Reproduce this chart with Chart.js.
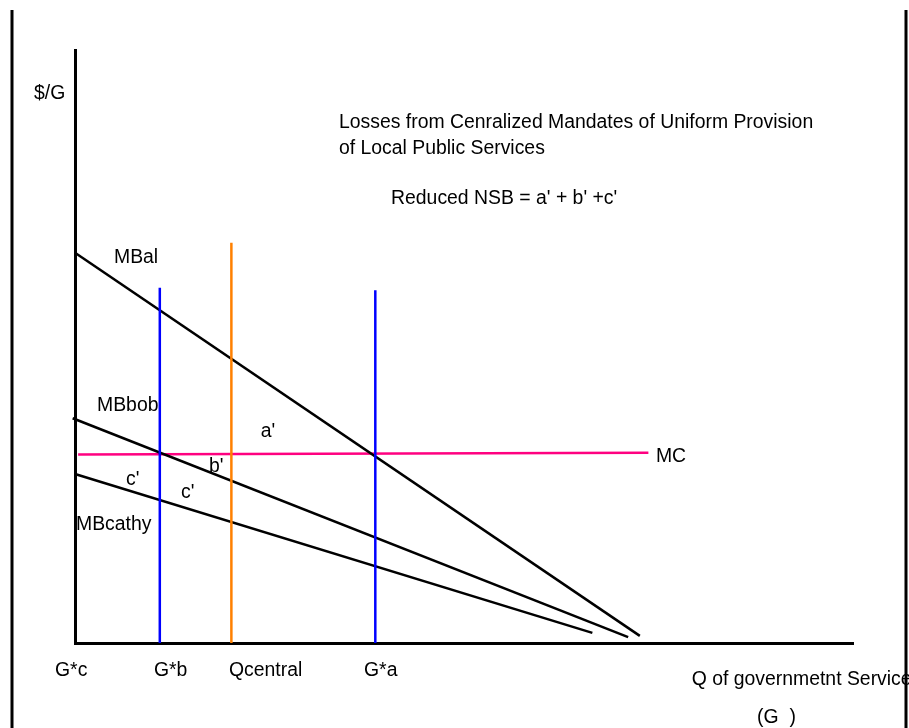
<!DOCTYPE html>
<html>
<head>
<meta charset="utf-8">
<script src="https://cdn.jsdelivr.net/npm/chart.js@4.4.0/dist/chart.umd.min.js"></script>
<style>
  html, body { margin: 0; padding: 0; background: #fff; }
  #wrap { width: 909px; height: 728px; }
</style>
</head>
<body>
<div id="wrap"><canvas id="chart" width="909" height="728"></canvas></div>
<script>
// curves (x = quantity of G, y = $/G)
const mbAlX = [0, 72.6];
const mbAlY = [65.8, 1.2];
const mbBobX = [-0.3, 71.1];
const mbBobY = [37.9, 1.0];
const mbCathyX = [0, 66.5];
const mbCathyY = [28.5, 1.7];
const mcX = [0.4, 73.7];
const mcY = [31.8, 32.1];

// vertical quantity markers
const gStarB = 10.9;
const qCentral = 20.1;
const gStarA = 38.6;
const gStarBTop = 59.9;
const qCentralTop = 67.5;
const gStarATop = 59.5;

// x labels under the axis
const xTickLabels = ['G*c', 'G*b', 'Qcentral', 'G*a'];
const xTickPos = [-2.44, 10.28, 19.92, 37.28];

const pts = (xs, ys) => xs.map((x, i) => ({ x: x, y: ys[i] }));
const vline = (x, top) => [{ x: x, y: 0 }, { x: x, y: top }];

// text notes, in data units
const notes = [
  { t: '$/G', x: -5.14, y: 92.7 },
  { t: 'Losses from Cenralized Mandates of Uniform Provision', x: 34.06, y: 87.7 },
  { t: 'of Local Public Services', x: 34.06, y: 83.3 },
  { t: "Reduced NSB = a' + b' +c'", x: 40.75, y: 74.9 },
  { t: 'MBal', x: 5.14, y: 64.9 },
  { t: 'MBbob', x: 2.96, y: 40.0 },
  { t: "a'", x: 24.0, y: 35.6 },
  { t: "b'", x: 17.35, y: 29.7 },
  { t: "c'", x: 6.68, y: 27.5 },
  { t: "c'", x: 13.75, y: 25.3 },
  { t: 'MBcathy', x: 0.26, y: 19.9 },
  { t: 'MC', x: 74.8, y: 31.4 },
  { t: 'Q of governmetnt Service', x: 79.4, y: -6.1 },
  { t: '(G  )', x: 87.8, y: -12.6 }
];
xTickLabels.forEach((t, i) => notes.push({ t: t, x: xTickPos[i], y: -4.7 }));

const textPlugin = {
  id: 'notes',
  afterDraw(chart) {
    const c = chart.ctx;
    const sx = chart.scales.x, sy = chart.scales.y;
    c.save();
    c.fillStyle = '#000';
    c.font = '19.4px "Liberation Sans", Arial, sans-serif';
    c.textAlign = 'left';
    c.textBaseline = 'middle';
    notes.forEach(n => c.fillText(n.t, sx.getPixelForValue(n.x) - 1, sy.getPixelForValue(n.y)));
    // page frame lines left and right
    c.strokeStyle = '#000';
    c.lineWidth = 3;
    c.beginPath();
    c.moveTo(12, 10); c.lineTo(12, 728);
    c.moveTo(906, 10); c.lineTo(906, 728);
    c.stroke();
    c.restore();
  }
};

const seg = (data, color, width) => ({
  data: data,
  showLine: true,
  borderColor: color,
  borderWidth: width,
  pointRadius: 0,
  fill: false,
  clip: false
});

new Chart(document.getElementById('chart').getContext('2d'), {
  type: 'scatter',
  data: {
    datasets: [
      seg(vline(gStarB, gStarBTop), '#0000ff', 2.5),
      seg(vline(qCentral, qCentralTop), '#ff8000', 2.5),
      seg(vline(gStarA, gStarATop), '#0000ff', 2.5),
      seg(pts(mbAlX, mbAlY), '#000', 2.5),
      seg(pts(mbBobX, mbBobY), '#000', 2.5),
      seg(pts(mbCathyX, mbCathyY), '#000', 2.5),
      seg(pts(mcX, mcY), '#ff0080', 2.5)
    ]
  },
  options: {
    responsive: false,
    animation: false,
    layout: { padding: { left: 75, top: 50, right: 56, bottom: 85 } },
    plugins: { legend: { display: false }, tooltip: { enabled: false } },
    scales: {
      x: {
        type: 'linear', min: 0, max: 100,
        grid: { display: false, drawTicks: false },
        ticks: { display: false },
        border: { display: true, color: '#000', width: 3 }
      },
      y: {
        type: 'linear', min: 0, max: 100,
        grid: { display: false, drawTicks: false },
        ticks: { display: false },
        border: { display: true, color: '#000', width: 3 }
      }
    }
  },
  plugins: [textPlugin]
});
</script>
</body>
</html>
